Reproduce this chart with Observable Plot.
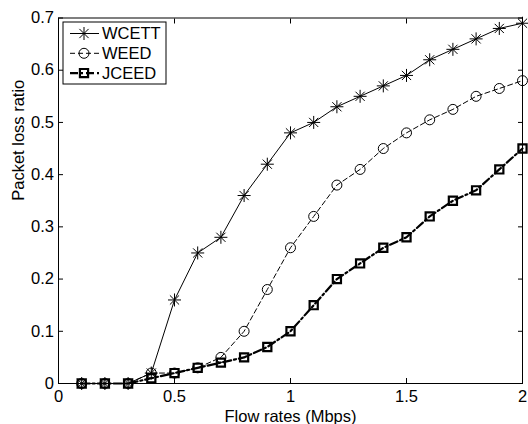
<!DOCTYPE html>
<html><head><meta charset="utf-8">
<script src="https://cdn.jsdelivr.net/npm/d3@7"></script>
<script src="https://cdn.jsdelivr.net/npm/@observablehq/plot@0.6"></script>
<style>
html,body{margin:0;padding:0;background:#fff;}
#chart{position:relative;width:528px;height:424px;}
</style></head><body><div id="chart"></div>
<script>
// ---- data ----
const flowRates = [0.1,0.2,0.3,0.4,0.5,0.6,0.7,0.8,0.9,1.0,1.1,1.2,1.3,1.4,1.5,1.6,1.7,1.8,1.9,2.0];
const wcett = [0,0,0,0.02,0.16,0.25,0.28,0.36,0.42,0.48,0.50,0.53,0.55,0.57,0.59,0.62,0.64,0.66,0.68,0.69];
const weed  = [0,0,0,0.02,0.02,0.03,0.05,0.10,0.18,0.26,0.32,0.38,0.41,0.45,0.48,0.505,0.525,0.55,0.565,0.58];
const jceed = [0,0,0,0.01,0.02,0.03,0.04,0.05,0.07,0.10,0.15,0.20,0.23,0.26,0.28,0.32,0.35,0.37,0.41,0.45];
const seriesNames = ["WCETT","WEED","JCEED"];
const xTicks = [0,0.5,1,1.5,2];
const xTickLabels = ["0","0.5","1","1.5","2"];
const yTicks = [0,0.1,0.2,0.3,0.4,0.5,0.6,0.7];
const yTickLabels = ["0","0.1","0.2","0.3","0.4","0.5","0.6","0.7"];
const xLabel = "Flow rates (Mbps)";
const yLabel = "Packet loss ratio";

// ---- styles ----
const asterisk8 = {draw(context, size){
  const r = Math.sqrt(size/Math.PI), d = r*Math.SQRT1_2;
  context.moveTo(-r,0); context.lineTo(r,0);
  context.moveTo(0,-r); context.lineTo(0,r);
  context.moveTo(-d,-d); context.lineTo(d,d);
  context.moveTo(-d,d); context.lineTo(d,-d);
}};
const styles = {
  WCETT: {width:1, dash:null, symbol:asterisk8, r:6.5, mw:1},
  WEED:  {width:1, dash:"5,3", symbol:"circle", r:5, mw:1},
  JCEED: {width:2.2, dash:"8,3,2,3", symbol:"square", r:4.6, mw:2.2}
};
const values = {WCETT: wcett, WEED: weed, JCEED: jceed};
const series = seriesNames.map(name => ({name, data: flowRates.map((x,i)=>({x, y: values[name][i]}))}));

const font = "'Liberation Sans', Arial, Helvetica, sans-serif";
const fs = 16.5;

const marks = [Plot.frame({stroke:"black", strokeWidth:1})];
for (const s of series) {
  const st = styles[s.name];
  marks.push(Plot.line(s.data, {x:"x", y:"y", stroke:"black", strokeWidth:st.width, strokeDasharray:st.dash}));
  marks.push(Plot.dot(s.data, {x:"x", y:"y", symbol:st.symbol, r:st.r, stroke:"black", fill:"none", strokeWidth:st.mw}));
}
marks.push(
  Plot.axisX(xTicks, {anchor:"bottom", tickSize:-5, tickPadding:11.5, fontSize:fs, tickFormat:d=>xTickLabels[xTicks.indexOf(d)], label:null}),
  Plot.axisX(xTicks, {anchor:"top", tickSize:-5, tickFormat:()=>"", label:null}),
  Plot.axisY(yTicks, {anchor:"left", tickSize:-5, tickPadding:9.5, fontSize:fs, tickFormat:d=>yTickLabels[yTicks.indexOf(d)], label:null}),
  Plot.axisY(yTicks, {anchor:"right", tickSize:-5, tickFormat:()=>"", label:null}),
  Plot.text([xLabel], {frameAnchor:"bottom", dy:38, lineAnchor:"bottom", fontSize:fs}),
  Plot.text([yLabel], {frameAnchor:"left", rotate:-90, dx:-40, fontSize:fs})
);

const plot = Plot.plot({
  width:528, height:424,
  marginLeft:58, marginRight:6, marginTop:17.5, marginBottom:41,
  x:{domain:[0,2]}, y:{domain:[0,0.7]},
  style:{fontFamily:font, fontSize:fs+"px", color:"black", background:"white"},
  marks
});
document.getElementById("chart").appendChild(plot);

// ---- legend ----
const svg = d3.select(plot);
const lg = svg.append("g");
lg.append("rect").attr("x",63).attr("y",22).attr("width",103).attr("height",62)
  .attr("fill","white").attr("stroke","black").attr("stroke-width",1);
seriesNames.forEach((name,i)=>{
  const st = styles[name];
  const yy = 33.5 + i*19.8;
  lg.append("line").attr("x1",70).attr("x2",99).attr("y1",yy).attr("y2",yy)
    .attr("stroke","black").attr("stroke-width",st.width).attr("stroke-dasharray",st.dash);
  const type = st.symbol === "circle" ? d3.symbolCircle : st.symbol === "square" ? d3.symbolSquare : st.symbol;
  lg.append("path").attr("d", d3.symbol(type, st.r*st.r*Math.PI)())
    .attr("transform",`translate(84,${yy})`).attr("fill","none").attr("stroke","black").attr("stroke-width",st.mw);
  lg.append("text").attr("x",102).attr("y",yy).attr("dy","0.36em").attr("font-size",fs)
    .attr("text-anchor","start").attr("font-family",font).attr("fill","black").text(name);
});
</script></body></html>
